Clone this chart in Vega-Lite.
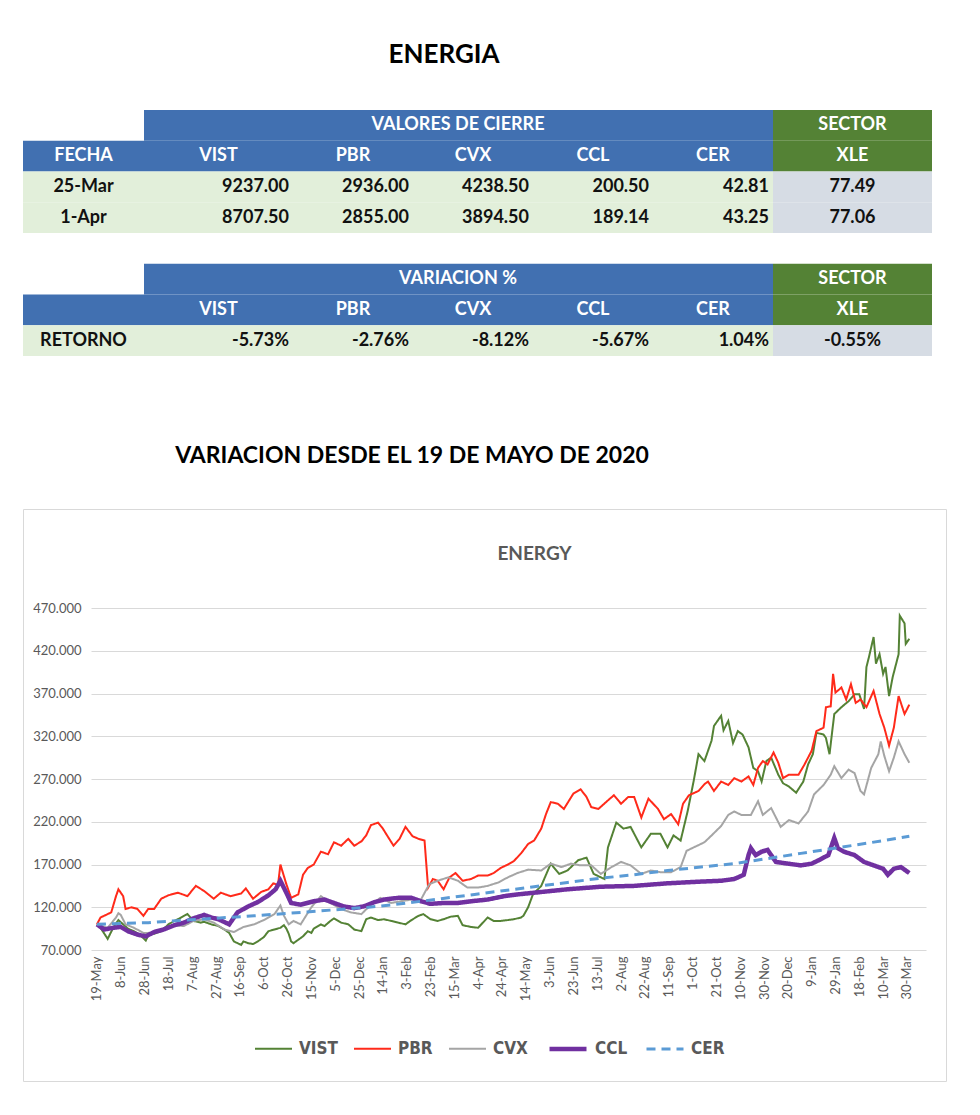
{
"$schema":"https://vega.github.io/schema/vega-lite/v6.json",
"padding":{"left":22,"top":0,"right":0,"bottom":0},
"background":"#ffffff",
"bounds":"full",
"spacing":0,
"resolve":{"scale":{"color":"independent","strokeWidth":"independent","strokeDash":"independent"},"legend":{"color":"independent","strokeWidth":"independent","strokeDash":"independent"}},
"config":{"view":{"stroke":null},"font":"Lato"},
"datasets":{
"cells":[
{"col":"FECHA","row":"h1","kind":"blank","txt":""},
{"col":"FECHA","row":"h2","kind":"hdr","txt":"FECHA"},
{"col":"FECHA","row":"r1","kind":"data","txt":"25-Mar"},
{"col":"FECHA","row":"r2","kind":"data","txt":"1-Apr"},
{"col":"FECHA","row":"gap","kind":"blank","txt":""},
{"col":"FECHA","row":"h3","kind":"blank","txt":""},
{"col":"FECHA","row":"h4","kind":"hdr","txt":""},
{"col":"FECHA","row":"r3","kind":"data","txt":"RETORNO"},
{"col":"VIST","row":"h1","kind":"hdr","txt":""},
{"col":"VIST","row":"h2","kind":"hdr","txt":"VIST"},
{"col":"VIST","row":"r1","kind":"data","txt":"9237.00"},
{"col":"VIST","row":"r2","kind":"data","txt":"8707.50"},
{"col":"VIST","row":"gap","kind":"blank","txt":""},
{"col":"VIST","row":"h3","kind":"hdr","txt":""},
{"col":"VIST","row":"h4","kind":"hdr","txt":"VIST"},
{"col":"VIST","row":"r3","kind":"data","txt":"-5.73%"},
{"col":"PBR","row":"h1","kind":"hdr","txt":""},
{"col":"PBR","row":"h2","kind":"hdr","txt":"PBR"},
{"col":"PBR","row":"r1","kind":"data","txt":"2936.00"},
{"col":"PBR","row":"r2","kind":"data","txt":"2855.00"},
{"col":"PBR","row":"gap","kind":"blank","txt":""},
{"col":"PBR","row":"h3","kind":"hdr","txt":""},
{"col":"PBR","row":"h4","kind":"hdr","txt":"PBR"},
{"col":"PBR","row":"r3","kind":"data","txt":"-2.76%"},
{"col":"CVX","row":"h1","kind":"hdr","txt":""},
{"col":"CVX","row":"h2","kind":"hdr","txt":"CVX"},
{"col":"CVX","row":"r1","kind":"data","txt":"4238.50"},
{"col":"CVX","row":"r2","kind":"data","txt":"3894.50"},
{"col":"CVX","row":"gap","kind":"blank","txt":""},
{"col":"CVX","row":"h3","kind":"hdr","txt":""},
{"col":"CVX","row":"h4","kind":"hdr","txt":"CVX"},
{"col":"CVX","row":"r3","kind":"data","txt":"-8.12%"},
{"col":"CCL","row":"h1","kind":"span","txt":"VALORES DE CIERRE"},
{"col":"CCL","row":"h2","kind":"hdr","txt":"CCL"},
{"col":"CCL","row":"r1","kind":"data","txt":"200.50"},
{"col":"CCL","row":"r2","kind":"data","txt":"189.14"},
{"col":"CCL","row":"gap","kind":"blank","txt":""},
{"col":"CCL","row":"h3","kind":"span","txt":"VARIACION %"},
{"col":"CCL","row":"h4","kind":"hdr","txt":"CCL"},
{"col":"CCL","row":"r3","kind":"data","txt":"-5.67%"},
{"col":"CER","row":"h1","kind":"hdr","txt":""},
{"col":"CER","row":"h2","kind":"hdr","txt":"CER"},
{"col":"CER","row":"r1","kind":"data","txt":"42.81"},
{"col":"CER","row":"r2","kind":"data","txt":"43.25"},
{"col":"CER","row":"gap","kind":"blank","txt":""},
{"col":"CER","row":"h3","kind":"hdr","txt":""},
{"col":"CER","row":"h4","kind":"hdr","txt":"CER"},
{"col":"CER","row":"r3","kind":"data","txt":"1.04%"},
{"col":"XLE","row":"h1","kind":"sec","txt":"SECTOR"},
{"col":"XLE","row":"h2","kind":"sec","txt":"XLE"},
{"col":"XLE","row":"r1","kind":"xle","txt":"77.49"},
{"col":"XLE","row":"r2","kind":"xle","txt":"77.06"},
{"col":"XLE","row":"gap","kind":"blank","txt":""},
{"col":"XLE","row":"h3","kind":"sec","txt":"SECTOR"},
{"col":"XLE","row":"h4","kind":"sec","txt":"XLE"},
{"col":"XLE","row":"r3","kind":"xle","txt":"-0.55%"}
],
"lines":[
{"s":"VIST","d":"2020-05-19","v":100},{"s":"VIST","d":"2020-05-22","v":96},{"s":"VIST","d":"2020-05-28","v":83},{"s":"VIST","d":"2020-06-02","v":97},{"s":"VIST","d":"2020-06-06","v":105},{"s":"VIST","d":"2020-06-10","v":100},{"s":"VIST","d":"2020-06-14","v":95},{"s":"VIST","d":"2020-06-19","v":92},{"s":"VIST","d":"2020-06-24","v":88},{"s":"VIST","d":"2020-06-29","v":81},{"s":"VIST","d":"2020-07-02","v":90},{"s":"VIST","d":"2020-07-06","v":89},{"s":"VIST","d":"2020-07-12","v":92},{"s":"VIST","d":"2020-07-18","v":100},{"s":"VIST","d":"2020-07-23","v":104},{"s":"VIST","d":"2020-07-26","v":106},{"s":"VIST","d":"2020-07-31","v":110},{"s":"VIST","d":"2020-08-03","v":112},{"s":"VIST","d":"2020-08-08","v":104},{"s":"VIST","d":"2020-08-14","v":102},{"s":"VIST","d":"2020-08-17","v":103},{"s":"VIST","d":"2020-08-23","v":100},{"s":"VIST","d":"2020-08-29","v":98},{"s":"VIST","d":"2020-09-03","v":94},{"s":"VIST","d":"2020-09-07","v":90},{"s":"VIST","d":"2020-09-11","v":80},{"s":"VIST","d":"2020-09-14","v":78},{"s":"VIST","d":"2020-09-17","v":76},{"s":"VIST","d":"2020-09-19","v":80},{"s":"VIST","d":"2020-09-23","v":78},{"s":"VIST","d":"2020-09-27","v":77},{"s":"VIST","d":"2020-10-01","v":80},{"s":"VIST","d":"2020-10-06","v":85},{"s":"VIST","d":"2020-10-10","v":92},{"s":"VIST","d":"2020-10-15","v":94},{"s":"VIST","d":"2020-10-20","v":96},{"s":"VIST","d":"2020-10-23","v":99},{"s":"VIST","d":"2020-10-25","v":95},{"s":"VIST","d":"2020-10-27","v":89},{"s":"VIST","d":"2020-10-29","v":80},{"s":"VIST","d":"2020-10-31","v":78},{"s":"VIST","d":"2020-11-04","v":82},{"s":"VIST","d":"2020-11-08","v":86},{"s":"VIST","d":"2020-11-12","v":92},{"s":"VIST","d":"2020-11-15","v":90},{"s":"VIST","d":"2020-11-17","v":95},{"s":"VIST","d":"2020-11-23","v":100},{"s":"VIST","d":"2020-11-26","v":98},{"s":"VIST","d":"2020-12-01","v":104},{"s":"VIST","d":"2020-12-04","v":107},{"s":"VIST","d":"2020-12-10","v":102},{"s":"VIST","d":"2020-12-16","v":100},{"s":"VIST","d":"2020-12-21","v":94},{"s":"VIST","d":"2020-12-27","v":92},{"s":"VIST","d":"2020-12-31","v":106},{"s":"VIST","d":"2021-01-04","v":108},{"s":"VIST","d":"2021-01-10","v":105},{"s":"VIST","d":"2021-01-15","v":106},{"s":"VIST","d":"2021-01-21","v":104},{"s":"VIST","d":"2021-01-27","v":102},{"s":"VIST","d":"2021-02-02","v":100},{"s":"VIST","d":"2021-02-07","v":105},{"s":"VIST","d":"2021-02-13","v":110},{"s":"VIST","d":"2021-02-17","v":112},{"s":"VIST","d":"2021-02-23","v":106},{"s":"VIST","d":"2021-03-01","v":104},{"s":"VIST","d":"2021-03-06","v":106},{"s":"VIST","d":"2021-03-12","v":109},{"s":"VIST","d":"2021-03-18","v":110},{"s":"VIST","d":"2021-03-22","v":99},{"s":"VIST","d":"2021-03-29","v":97},{"s":"VIST","d":"2021-04-04","v":96},{"s":"VIST","d":"2021-04-12","v":108},{"s":"VIST","d":"2021-04-17","v":104},{"s":"VIST","d":"2021-04-23","v":104},{"s":"VIST","d":"2021-04-29","v":105},{"s":"VIST","d":"2021-05-04","v":106},{"s":"VIST","d":"2021-05-10","v":108},{"s":"VIST","d":"2021-05-12","v":110},{"s":"VIST","d":"2021-05-16","v":120},{"s":"VIST","d":"2021-05-20","v":135},{"s":"VIST","d":"2021-05-27","v":145},{"s":"VIST","d":"2021-06-04","v":171},{"s":"VIST","d":"2021-06-11","v":159},{"s":"VIST","d":"2021-06-18","v":163},{"s":"VIST","d":"2021-06-27","v":175},{"s":"VIST","d":"2021-07-04","v":178},{"s":"VIST","d":"2021-07-10","v":159},{"s":"VIST","d":"2021-07-19","v":153},{"s":"VIST","d":"2021-07-22","v":190},{"s":"VIST","d":"2021-07-29","v":219},{"s":"VIST","d":"2021-08-04","v":212},{"s":"VIST","d":"2021-08-10","v":214},{"s":"VIST","d":"2021-08-19","v":190},{"s":"VIST","d":"2021-08-27","v":206},{"s":"VIST","d":"2021-09-04","v":206},{"s":"VIST","d":"2021-09-10","v":190},{"s":"VIST","d":"2021-09-15","v":204},{"s":"VIST","d":"2021-09-21","v":198},{"s":"VIST","d":"2021-09-27","v":233},{"s":"VIST","d":"2021-10-02","v":268},{"s":"VIST","d":"2021-10-06","v":299},{"s":"VIST","d":"2021-10-11","v":291},{"s":"VIST","d":"2021-10-17","v":315},{"s":"VIST","d":"2021-10-19","v":332},{"s":"VIST","d":"2021-10-25","v":344},{"s":"VIST","d":"2021-10-27","v":327},{"s":"VIST","d":"2021-10-31","v":338},{"s":"VIST","d":"2021-11-04","v":312},{"s":"VIST","d":"2021-11-08","v":326},{"s":"VIST","d":"2021-11-12","v":322},{"s":"VIST","d":"2021-11-17","v":307},{"s":"VIST","d":"2021-11-21","v":283},{"s":"VIST","d":"2021-11-25","v":279},{"s":"VIST","d":"2021-11-28","v":267},{"s":"VIST","d":"2021-12-02","v":291},{"s":"VIST","d":"2021-12-06","v":295},{"s":"VIST","d":"2021-12-12","v":275},{"s":"VIST","d":"2021-12-16","v":265},{"s":"VIST","d":"2021-12-21","v":261},{"s":"VIST","d":"2021-12-27","v":254},{"s":"VIST","d":"2022-01-02","v":267},{"s":"VIST","d":"2022-01-06","v":287},{"s":"VIST","d":"2022-01-10","v":299},{"s":"VIST","d":"2022-01-13","v":324},{"s":"VIST","d":"2022-01-19","v":322},{"s":"VIST","d":"2022-01-21","v":318},{"s":"VIST","d":"2022-01-24","v":299},{"s":"VIST","d":"2022-01-28","v":346},{"s":"VIST","d":"2022-02-03","v":354},{"s":"VIST","d":"2022-02-09","v":361},{"s":"VIST","d":"2022-02-14","v":369},{"s":"VIST","d":"2022-02-18","v":369},{"s":"VIST","d":"2022-02-22","v":352},{"s":"VIST","d":"2022-02-24","v":401},{"s":"VIST","d":"2022-02-26","v":412},{"s":"VIST","d":"2022-03-02","v":436},{"s":"VIST","d":"2022-03-04","v":405},{"s":"VIST","d":"2022-03-07","v":416},{"s":"VIST","d":"2022-03-10","v":393},{"s":"VIST","d":"2022-03-12","v":401},{"s":"VIST","d":"2022-03-15","v":367},{"s":"VIST","d":"2022-03-18","v":389},{"s":"VIST","d":"2022-03-23","v":416},{"s":"VIST","d":"2022-03-24","v":461},{"s":"VIST","d":"2022-03-28","v":452},{"s":"VIST","d":"2022-03-29","v":428},{"s":"VIST","d":"2022-04-01","v":434},
{"s":"PBR","d":"2020-05-19","v":100},{"s":"PBR","d":"2020-05-22","v":108},{"s":"PBR","d":"2020-05-31","v":114},{"s":"PBR","d":"2020-06-04","v":133},{"s":"PBR","d":"2020-06-06","v":141},{"s":"PBR","d":"2020-06-10","v":133},{"s":"PBR","d":"2020-06-12","v":118},{"s":"PBR","d":"2020-06-17","v":120},{"s":"PBR","d":"2020-06-22","v":118},{"s":"PBR","d":"2020-06-27","v":110},{"s":"PBR","d":"2020-07-01","v":118},{"s":"PBR","d":"2020-07-06","v":118},{"s":"PBR","d":"2020-07-12","v":130},{"s":"PBR","d":"2020-07-18","v":134},{"s":"PBR","d":"2020-07-26","v":137},{"s":"PBR","d":"2020-08-03","v":133},{"s":"PBR","d":"2020-08-10","v":145},{"s":"PBR","d":"2020-08-17","v":139},{"s":"PBR","d":"2020-08-25","v":130},{"s":"PBR","d":"2020-08-31","v":137},{"s":"PBR","d":"2020-09-08","v":133},{"s":"PBR","d":"2020-09-17","v":136},{"s":"PBR","d":"2020-09-21","v":142},{"s":"PBR","d":"2020-09-27","v":130},{"s":"PBR","d":"2020-10-04","v":138},{"s":"PBR","d":"2020-10-10","v":141},{"s":"PBR","d":"2020-10-14","v":148},{"s":"PBR","d":"2020-10-18","v":146},{"s":"PBR","d":"2020-10-20","v":170},{"s":"PBR","d":"2020-10-25","v":147},{"s":"PBR","d":"2020-10-29","v":131},{"s":"PBR","d":"2020-11-04","v":135},{"s":"PBR","d":"2020-11-08","v":158},{"s":"PBR","d":"2020-11-12","v":166},{"s":"PBR","d":"2020-11-17","v":170},{"s":"PBR","d":"2020-11-23","v":185},{"s":"PBR","d":"2020-11-29","v":182},{"s":"PBR","d":"2020-12-04","v":196},{"s":"PBR","d":"2020-12-10","v":192},{"s":"PBR","d":"2020-12-16","v":200},{"s":"PBR","d":"2020-12-21","v":192},{"s":"PBR","d":"2020-12-27","v":197},{"s":"PBR","d":"2020-12-31","v":204},{"s":"PBR","d":"2021-01-04","v":216},{"s":"PBR","d":"2021-01-10","v":219},{"s":"PBR","d":"2021-01-14","v":212},{"s":"PBR","d":"2021-01-18","v":203},{"s":"PBR","d":"2021-01-23","v":192},{"s":"PBR","d":"2021-01-28","v":200},{"s":"PBR","d":"2021-02-02","v":214},{"s":"PBR","d":"2021-02-08","v":203},{"s":"PBR","d":"2021-02-13","v":200},{"s":"PBR","d":"2021-02-18","v":198},{"s":"PBR","d":"2021-02-21","v":143},{"s":"PBR","d":"2021-02-25","v":153},{"s":"PBR","d":"2021-03-01","v":151},{"s":"PBR","d":"2021-03-06","v":141},{"s":"PBR","d":"2021-03-11","v":155},{"s":"PBR","d":"2021-03-16","v":160},{"s":"PBR","d":"2021-03-22","v":151},{"s":"PBR","d":"2021-03-29","v":153},{"s":"PBR","d":"2021-04-04","v":157},{"s":"PBR","d":"2021-04-12","v":157},{"s":"PBR","d":"2021-04-17","v":160},{"s":"PBR","d":"2021-04-23","v":166},{"s":"PBR","d":"2021-04-29","v":170},{"s":"PBR","d":"2021-05-04","v":174},{"s":"PBR","d":"2021-05-10","v":183},{"s":"PBR","d":"2021-05-16","v":194},{"s":"PBR","d":"2021-05-21","v":198},{"s":"PBR","d":"2021-05-27","v":212},{"s":"PBR","d":"2021-05-31","v":229},{"s":"PBR","d":"2021-06-04","v":243},{"s":"PBR","d":"2021-06-10","v":241},{"s":"PBR","d":"2021-06-15","v":235},{"s":"PBR","d":"2021-06-23","v":253},{"s":"PBR","d":"2021-06-29","v":258},{"s":"PBR","d":"2021-07-04","v":249},{"s":"PBR","d":"2021-07-08","v":237},{"s":"PBR","d":"2021-07-14","v":235},{"s":"PBR","d":"2021-07-22","v":245},{"s":"PBR","d":"2021-07-27","v":251},{"s":"PBR","d":"2021-08-02","v":241},{"s":"PBR","d":"2021-08-08","v":249},{"s":"PBR","d":"2021-08-13","v":249},{"s":"PBR","d":"2021-08-19","v":225},{"s":"PBR","d":"2021-08-25","v":247},{"s":"PBR","d":"2021-09-02","v":235},{"s":"PBR","d":"2021-09-07","v":223},{"s":"PBR","d":"2021-09-13","v":229},{"s":"PBR","d":"2021-09-19","v":217},{"s":"PBR","d":"2021-09-23","v":241},{"s":"PBR","d":"2021-09-28","v":251},{"s":"PBR","d":"2021-10-06","v":256},{"s":"PBR","d":"2021-10-11","v":264},{"s":"PBR","d":"2021-10-14","v":267},{"s":"PBR","d":"2021-10-19","v":256},{"s":"PBR","d":"2021-10-25","v":267},{"s":"PBR","d":"2021-10-31","v":263},{"s":"PBR","d":"2021-11-05","v":271},{"s":"PBR","d":"2021-11-11","v":267},{"s":"PBR","d":"2021-11-17","v":273},{"s":"PBR","d":"2021-11-21","v":263},{"s":"PBR","d":"2021-11-25","v":283},{"s":"PBR","d":"2021-11-29","v":291},{"s":"PBR","d":"2021-12-03","v":287},{"s":"PBR","d":"2021-12-08","v":301},{"s":"PBR","d":"2021-12-12","v":289},{"s":"PBR","d":"2021-12-16","v":271},{"s":"PBR","d":"2021-12-21","v":275},{"s":"PBR","d":"2021-12-29","v":275},{"s":"PBR","d":"2022-01-03","v":287},{"s":"PBR","d":"2022-01-09","v":303},{"s":"PBR","d":"2022-01-13","v":326},{"s":"PBR","d":"2022-01-19","v":330},{"s":"PBR","d":"2022-01-21","v":354},{"s":"PBR","d":"2022-01-25","v":355},{"s":"PBR","d":"2022-01-27","v":393},{"s":"PBR","d":"2022-01-29","v":371},{"s":"PBR","d":"2022-02-03","v":377},{"s":"PBR","d":"2022-02-07","v":363},{"s":"PBR","d":"2022-02-11","v":381},{"s":"PBR","d":"2022-02-15","v":359},{"s":"PBR","d":"2022-02-19","v":363},{"s":"PBR","d":"2022-02-24","v":354},{"s":"PBR","d":"2022-03-02","v":373},{"s":"PBR","d":"2022-03-07","v":346},{"s":"PBR","d":"2022-03-11","v":330},{"s":"PBR","d":"2022-03-15","v":309},{"s":"PBR","d":"2022-03-19","v":330},{"s":"PBR","d":"2022-03-23","v":367},{"s":"PBR","d":"2022-03-28","v":346},{"s":"PBR","d":"2022-04-01","v":357},
{"s":"CVX","d":"2020-05-19","v":100},{"s":"CVX","d":"2020-05-28","v":96},{"s":"CVX","d":"2020-06-04","v":108},{"s":"CVX","d":"2020-06-06","v":113},{"s":"CVX","d":"2020-06-08","v":111},{"s":"CVX","d":"2020-06-12","v":100},{"s":"CVX","d":"2020-06-19","v":96},{"s":"CVX","d":"2020-06-27","v":90},{"s":"CVX","d":"2020-07-06","v":90},{"s":"CVX","d":"2020-07-14","v":95},{"s":"CVX","d":"2020-07-23","v":99},{"s":"CVX","d":"2020-07-31","v":98},{"s":"CVX","d":"2020-08-08","v":104},{"s":"CVX","d":"2020-08-17","v":106},{"s":"CVX","d":"2020-08-25","v":102},{"s":"CVX","d":"2020-09-03","v":94},{"s":"CVX","d":"2020-09-11","v":91},{"s":"CVX","d":"2020-09-19","v":97},{"s":"CVX","d":"2020-09-28","v":100},{"s":"CVX","d":"2020-10-06","v":105},{"s":"CVX","d":"2020-10-15","v":112},{"s":"CVX","d":"2020-10-20","v":122},{"s":"CVX","d":"2020-10-23","v":110},{"s":"CVX","d":"2020-10-27","v":100},{"s":"CVX","d":"2020-10-31","v":104},{"s":"CVX","d":"2020-11-06","v":100},{"s":"CVX","d":"2020-11-15","v":120},{"s":"CVX","d":"2020-11-23","v":133},{"s":"CVX","d":"2020-12-01","v":125},{"s":"CVX","d":"2020-12-10","v":118},{"s":"CVX","d":"2020-12-18","v":114},{"s":"CVX","d":"2020-12-27","v":112},{"s":"CVX","d":"2021-01-04","v":123},{"s":"CVX","d":"2021-01-12","v":131},{"s":"CVX","d":"2021-01-21","v":125},{"s":"CVX","d":"2021-01-29","v":127},{"s":"CVX","d":"2021-02-07","v":129},{"s":"CVX","d":"2021-02-15","v":129},{"s":"CVX","d":"2021-02-22","v":147},{"s":"CVX","d":"2021-03-01","v":151},{"s":"CVX","d":"2021-03-10","v":155},{"s":"CVX","d":"2021-03-18","v":151},{"s":"CVX","d":"2021-03-26","v":143},{"s":"CVX","d":"2021-04-04","v":143},{"s":"CVX","d":"2021-04-12","v":145},{"s":"CVX","d":"2021-04-21","v":149},{"s":"CVX","d":"2021-04-29","v":155},{"s":"CVX","d":"2021-05-07","v":160},{"s":"CVX","d":"2021-05-16","v":164},{"s":"CVX","d":"2021-05-27","v":163},{"s":"CVX","d":"2021-06-04","v":171},{"s":"CVX","d":"2021-06-13","v":167},{"s":"CVX","d":"2021-06-21","v":171},{"s":"CVX","d":"2021-06-29","v":169},{"s":"CVX","d":"2021-07-08","v":169},{"s":"CVX","d":"2021-07-16","v":159},{"s":"CVX","d":"2021-07-25","v":167},{"s":"CVX","d":"2021-08-02","v":173},{"s":"CVX","d":"2021-08-10","v":169},{"s":"CVX","d":"2021-08-19","v":159},{"s":"CVX","d":"2021-08-27","v":163},{"s":"CVX","d":"2021-09-04","v":161},{"s":"CVX","d":"2021-09-13","v":161},{"s":"CVX","d":"2021-09-21","v":167},{"s":"CVX","d":"2021-09-26","v":186},{"s":"CVX","d":"2021-10-02","v":190},{"s":"CVX","d":"2021-10-11","v":196},{"s":"CVX","d":"2021-10-17","v":204},{"s":"CVX","d":"2021-10-25","v":215},{"s":"CVX","d":"2021-10-31","v":228},{"s":"CVX","d":"2021-11-05","v":232},{"s":"CVX","d":"2021-11-11","v":228},{"s":"CVX","d":"2021-11-19","v":228},{"s":"CVX","d":"2021-11-25","v":244},{"s":"CVX","d":"2021-11-29","v":228},{"s":"CVX","d":"2021-12-06","v":236},{"s":"CVX","d":"2021-12-14","v":214},{"s":"CVX","d":"2021-12-21","v":222},{"s":"CVX","d":"2021-12-29","v":218},{"s":"CVX","d":"2022-01-06","v":232},{"s":"CVX","d":"2022-01-11","v":252},{"s":"CVX","d":"2022-01-19","v":263},{"s":"CVX","d":"2022-01-25","v":275},{"s":"CVX","d":"2022-01-28","v":285},{"s":"CVX","d":"2022-02-03","v":271},{"s":"CVX","d":"2022-02-09","v":281},{"s":"CVX","d":"2022-02-14","v":277},{"s":"CVX","d":"2022-02-19","v":256},{"s":"CVX","d":"2022-02-22","v":252},{"s":"CVX","d":"2022-02-28","v":283},{"s":"CVX","d":"2022-03-06","v":299},{"s":"CVX","d":"2022-03-08","v":314},{"s":"CVX","d":"2022-03-11","v":297},{"s":"CVX","d":"2022-03-15","v":279},{"s":"CVX","d":"2022-03-19","v":295},{"s":"CVX","d":"2022-03-23","v":314},{"s":"CVX","d":"2022-03-28","v":299},{"s":"CVX","d":"2022-04-01","v":289},
{"s":"CCL","d":"2020-05-19","v":100},{"s":"CCL","d":"2020-05-25","v":94},{"s":"CCL","d":"2020-06-02","v":96},{"s":"CCL","d":"2020-06-08","v":97},{"s":"CCL","d":"2020-06-14","v":92},{"s":"CCL","d":"2020-06-22","v":88},{"s":"CCL","d":"2020-06-29","v":86},{"s":"CCL","d":"2020-07-06","v":91},{"s":"CCL","d":"2020-07-14","v":94},{"s":"CCL","d":"2020-07-23","v":99},{"s":"CCL","d":"2020-07-31","v":102},{"s":"CCL","d":"2020-08-08","v":107},{"s":"CCL","d":"2020-08-17","v":111},{"s":"CCL","d":"2020-08-23","v":108},{"s":"CCL","d":"2020-08-29","v":106},{"s":"CCL","d":"2020-09-07","v":100},{"s":"CCL","d":"2020-09-14","v":114},{"s":"CCL","d":"2020-09-23","v":121},{"s":"CCL","d":"2020-10-01","v":126},{"s":"CCL","d":"2020-10-10","v":134},{"s":"CCL","d":"2020-10-16","v":141},{"s":"CCL","d":"2020-10-20","v":151},{"s":"CCL","d":"2020-10-25","v":137},{"s":"CCL","d":"2020-10-29","v":125},{"s":"CCL","d":"2020-11-06","v":123},{"s":"CCL","d":"2020-11-17","v":127},{"s":"CCL","d":"2020-11-26","v":129},{"s":"CCL","d":"2020-12-04","v":125},{"s":"CCL","d":"2020-12-12","v":121},{"s":"CCL","d":"2020-12-21","v":119},{"s":"CCL","d":"2020-12-29","v":121},{"s":"CCL","d":"2021-01-07","v":126},{"s":"CCL","d":"2021-01-15","v":129},{"s":"CCL","d":"2021-01-27","v":131},{"s":"CCL","d":"2021-02-07","v":131},{"s":"CCL","d":"2021-02-15","v":127},{"s":"CCL","d":"2021-02-23","v":124},{"s":"CCL","d":"2021-03-06","v":125},{"s":"CCL","d":"2021-03-18","v":125},{"s":"CCL","d":"2021-03-29","v":127},{"s":"CCL","d":"2021-04-12","v":129},{"s":"CCL","d":"2021-04-26","v":133},{"s":"CCL","d":"2021-05-07","v":135},{"s":"CCL","d":"2021-05-21","v":137},{"s":"CCL","d":"2021-06-18","v":141},{"s":"CCL","d":"2021-07-16","v":144},{"s":"CCL","d":"2021-08-13","v":145},{"s":"CCL","d":"2021-09-10","v":148},{"s":"CCL","d":"2021-10-08","v":150},{"s":"CCL","d":"2021-10-25","v":151},{"s":"CCL","d":"2021-11-05","v":153},{"s":"CCL","d":"2021-11-13","v":158},{"s":"CCL","d":"2021-11-17","v":181},{"s":"CCL","d":"2021-11-19","v":189},{"s":"CCL","d":"2021-11-23","v":181},{"s":"CCL","d":"2021-11-28","v":185},{"s":"CCL","d":"2021-12-03","v":187},{"s":"CCL","d":"2021-12-06","v":181},{"s":"CCL","d":"2021-12-10","v":173},{"s":"CCL","d":"2021-12-20","v":171},{"s":"CCL","d":"2021-12-31","v":169},{"s":"CCL","d":"2022-01-09","v":171},{"s":"CCL","d":"2022-01-15","v":175},{"s":"CCL","d":"2022-01-23","v":181},{"s":"CCL","d":"2022-01-28","v":201},{"s":"CCL","d":"2022-01-31","v":189},{"s":"CCL","d":"2022-02-05","v":185},{"s":"CCL","d":"2022-02-14","v":181},{"s":"CCL","d":"2022-02-22","v":173},{"s":"CCL","d":"2022-03-02","v":169},{"s":"CCL","d":"2022-03-10","v":165},{"s":"CCL","d":"2022-03-14","v":158},{"s":"CCL","d":"2022-03-19","v":165},{"s":"CCL","d":"2022-03-25","v":167},{"s":"CCL","d":"2022-04-01","v":160},
{"s":"CER","d":"2020-05-19","v":100},{"s":"CER","d":"2020-07-01","v":102},{"s":"CER","d":"2020-08-14","v":106},{"s":"CER","d":"2020-09-28","v":110},{"s":"CER","d":"2020-11-06","v":114},{"s":"CER","d":"2021-01-02","v":120},{"s":"CER","d":"2021-01-29","v":124},{"s":"CER","d":"2021-03-04","v":130},{"s":"CER","d":"2021-04-01","v":135},{"s":"CER","d":"2021-04-23","v":139},{"s":"CER","d":"2021-05-21","v":144},{"s":"CER","d":"2021-06-18","v":149},{"s":"CER","d":"2021-07-16","v":154},{"s":"CER","d":"2021-08-13","v":158},{"s":"CER","d":"2021-09-10","v":163},{"s":"CER","d":"2021-10-08","v":167},{"s":"CER","d":"2021-11-05","v":171},{"s":"CER","d":"2021-12-03","v":177},{"s":"CER","d":"2021-12-31","v":183},{"s":"CER","d":"2022-01-28","v":189},{"s":"CER","d":"2022-02-25","v":195},{"s":"CER","d":"2022-04-01","v":203}
]
},
"vconcat":[
{"width":842,"height":110,"data":{"values":[{"t":"ENERGIA"}]},"mark":{"type":"text","font":"Lato","fontSize":26,"fontWeight":"bold","color":"#000000"},"encoding":{"text":{"field":"t"}}},
{"hconcat":[
{"width":121,"height":246,"data":{"name":"cells"},"transform":[{"filter":"datum.col == 'FECHA'"}],
 "encoding":{"x":{"field":"col","type":"nominal","scale":{"paddingInner":0,"paddingOuter":0},"axis":null},"y":{"field":"row","type":"nominal","scale":{"domain":["h1","h2","r1","r2","gap","h3","h4","r3"],"paddingInner":0,"paddingOuter":0},"axis":null}},
 "layer":[
  {"mark":{"type":"rect"},"encoding":{"fill":{"field":"kind","type":"nominal","scale":{"domain":["blank","hdr","span","sec","data","xle"],"range":["#ffffff","#4170b1","#4170b1","#548235","#e2efda","#d6dce4"]},"legend":null}}},
  {"transform":[{"filter":"datum.kind == 'hdr'"}],"mark":{"type":"text","font":"Lato","fontSize":18,"fontWeight":"bold","color":"#ffffff"},"encoding":{"text":{"field":"txt"}}},
  {"transform":[{"filter":"datum.kind == 'data'"}],"mark":{"type":"text","font":"Lato","fontSize":18,"fontWeight":"bold","color":"#111111"},"encoding":{"text":{"field":"txt"}}}
 ]},
{"width":149,"height":246,"data":{"name":"cells"},"transform":[{"filter":"datum.col == 'VIST'"}],
 "encoding":{"x":{"field":"col","type":"nominal","scale":{"paddingInner":0,"paddingOuter":0},"axis":null},"y":{"field":"row","type":"nominal","scale":{"domain":["h1","h2","r1","r2","gap","h3","h4","r3"],"paddingInner":0,"paddingOuter":0},"axis":null}},
 "layer":[
  {"mark":{"type":"rect"},"encoding":{"fill":{"field":"kind","type":"nominal","scale":{"domain":["blank","hdr","span","sec","data","xle"],"range":["#ffffff","#4170b1","#4170b1","#548235","#e2efda","#d6dce4"]},"legend":null}}},
  {"transform":[{"filter":"datum.kind == 'hdr'"}],"mark":{"type":"text","font":"Lato","fontSize":18,"fontWeight":"bold","color":"#ffffff"},"encoding":{"text":{"field":"txt"}}},
  {"transform":[{"filter":"datum.kind == 'data'"}],"mark":{"type":"text","font":"Lato","fontSize":18,"fontWeight":"bold","color":"#111111","align":"right","dx":-4},"encoding":{"x":{"field":"col","type":"nominal","bandPosition":1},"text":{"field":"txt"}}}
 ]},
{"width":120,"height":246,"data":{"name":"cells"},"transform":[{"filter":"datum.col == 'PBR'"}],
 "encoding":{"x":{"field":"col","type":"nominal","scale":{"paddingInner":0,"paddingOuter":0},"axis":null},"y":{"field":"row","type":"nominal","scale":{"domain":["h1","h2","r1","r2","gap","h3","h4","r3"],"paddingInner":0,"paddingOuter":0},"axis":null}},
 "layer":[
  {"mark":{"type":"rect"},"encoding":{"fill":{"field":"kind","type":"nominal","scale":{"domain":["blank","hdr","span","sec","data","xle"],"range":["#ffffff","#4170b1","#4170b1","#548235","#e2efda","#d6dce4"]},"legend":null}}},
  {"transform":[{"filter":"datum.kind == 'hdr'"}],"mark":{"type":"text","font":"Lato","fontSize":18,"fontWeight":"bold","color":"#ffffff"},"encoding":{"text":{"field":"txt"}}},
  {"transform":[{"filter":"datum.kind == 'data'"}],"mark":{"type":"text","font":"Lato","fontSize":18,"fontWeight":"bold","color":"#111111","align":"right","dx":-4},"encoding":{"x":{"field":"col","type":"nominal","bandPosition":1},"text":{"field":"txt"}}}
 ]},
{"width":120,"height":246,"data":{"name":"cells"},"transform":[{"filter":"datum.col == 'CVX'"}],
 "encoding":{"x":{"field":"col","type":"nominal","scale":{"paddingInner":0,"paddingOuter":0},"axis":null},"y":{"field":"row","type":"nominal","scale":{"domain":["h1","h2","r1","r2","gap","h3","h4","r3"],"paddingInner":0,"paddingOuter":0},"axis":null}},
 "layer":[
  {"mark":{"type":"rect"},"encoding":{"fill":{"field":"kind","type":"nominal","scale":{"domain":["blank","hdr","span","sec","data","xle"],"range":["#ffffff","#4170b1","#4170b1","#548235","#e2efda","#d6dce4"]},"legend":null}}},
  {"transform":[{"filter":"datum.kind == 'hdr'"}],"mark":{"type":"text","font":"Lato","fontSize":18,"fontWeight":"bold","color":"#ffffff"},"encoding":{"text":{"field":"txt"}}},
  {"transform":[{"filter":"datum.kind == 'data'"}],"mark":{"type":"text","font":"Lato","fontSize":18,"fontWeight":"bold","color":"#111111","align":"right","dx":-4},"encoding":{"x":{"field":"col","type":"nominal","bandPosition":1},"text":{"field":"txt"}}}
 ]},
{"width":120,"height":246,"data":{"name":"cells"},"transform":[{"filter":"datum.col == 'CCL'"}],
 "encoding":{"x":{"field":"col","type":"nominal","scale":{"paddingInner":0,"paddingOuter":0},"axis":null},"y":{"field":"row","type":"nominal","scale":{"domain":["h1","h2","r1","r2","gap","h3","h4","r3"],"paddingInner":0,"paddingOuter":0},"axis":null}},
 "layer":[
  {"mark":{"type":"rect"},"encoding":{"fill":{"field":"kind","type":"nominal","scale":{"domain":["blank","hdr","span","sec","data","xle"],"range":["#ffffff","#4170b1","#4170b1","#548235","#e2efda","#d6dce4"]},"legend":null}}},
  {"transform":[{"filter":"datum.kind == 'hdr'"}],"mark":{"type":"text","font":"Lato","fontSize":18,"fontWeight":"bold","color":"#ffffff"},"encoding":{"text":{"field":"txt"}}},
  {"transform":[{"filter":"datum.kind == 'span'"}],"mark":{"type":"text","font":"Lato","fontSize":18,"fontWeight":"bold","color":"#ffffff","dx":-135},"encoding":{"text":{"field":"txt"}}},
  {"transform":[{"filter":"datum.kind == 'data'"}],"mark":{"type":"text","font":"Lato","fontSize":18,"fontWeight":"bold","color":"#111111","align":"right","dx":-4},"encoding":{"x":{"field":"col","type":"nominal","bandPosition":1},"text":{"field":"txt"}}}
 ]},
{"width":120,"height":246,"data":{"name":"cells"},"transform":[{"filter":"datum.col == 'CER'"}],
 "encoding":{"x":{"field":"col","type":"nominal","scale":{"paddingInner":0,"paddingOuter":0},"axis":null},"y":{"field":"row","type":"nominal","scale":{"domain":["h1","h2","r1","r2","gap","h3","h4","r3"],"paddingInner":0,"paddingOuter":0},"axis":null}},
 "layer":[
  {"mark":{"type":"rect"},"encoding":{"fill":{"field":"kind","type":"nominal","scale":{"domain":["blank","hdr","span","sec","data","xle"],"range":["#ffffff","#4170b1","#4170b1","#548235","#e2efda","#d6dce4"]},"legend":null}}},
  {"transform":[{"filter":"datum.kind == 'hdr'"}],"mark":{"type":"text","font":"Lato","fontSize":18,"fontWeight":"bold","color":"#ffffff"},"encoding":{"text":{"field":"txt"}}},
  {"transform":[{"filter":"datum.kind == 'data'"}],"mark":{"type":"text","font":"Lato","fontSize":18,"fontWeight":"bold","color":"#111111","align":"right","dx":-4},"encoding":{"x":{"field":"col","type":"nominal","bandPosition":1},"text":{"field":"txt"}}}
 ]},
{"width":159,"height":246,"data":{"name":"cells"},"transform":[{"filter":"datum.col == 'XLE'"}],
 "encoding":{"x":{"field":"col","type":"nominal","scale":{"paddingInner":0,"paddingOuter":0},"axis":null},"y":{"field":"row","type":"nominal","scale":{"domain":["h1","h2","r1","r2","gap","h3","h4","r3"],"paddingInner":0,"paddingOuter":0},"axis":null}},
 "layer":[
  {"mark":{"type":"rect"},"encoding":{"fill":{"field":"kind","type":"nominal","scale":{"domain":["blank","hdr","span","sec","data","xle"],"range":["#ffffff","#4170b1","#4170b1","#548235","#e2efda","#d6dce4"]},"legend":null}}},
  {"transform":[{"filter":"datum.kind == 'sec'"}],"mark":{"type":"text","font":"Lato","fontSize":18,"fontWeight":"bold","color":"#ffffff"},"encoding":{"text":{"field":"txt"}}},
  {"transform":[{"filter":"datum.kind == 'xle'"}],"mark":{"type":"text","font":"Lato","fontSize":18,"fontWeight":"bold","color":"#111111"},"encoding":{"text":{"field":"txt"}}}
 ]}
],"spacing":0,"bounds":"flush"},
{"width":778,"height":152,"data":{"values":[{"t":"VARIACION DESDE EL 19 DE MAYO DE 2020"}]},"mark":{"type":"text","font":"Lato","fontSize":23,"fontWeight":"bold","color":"#000000","dy":24},"encoding":{"text":{"field":"t"}}},
{"width":923,"height":572,
 "view":{"stroke":"#d9d9d9","strokeWidth":1},
 "title":{"text":"ENERGY","font":"Lato","fontSize":19,"fontWeight":"bold","color":"#595959","anchor":"middle","dx":50,"offset":-55},
 "data":{"name":"lines"},
 "mark":{"type":"line","interpolate":"linear"},
 "encoding":{
  "x":{"field":"d","type":"temporal","scale":{"type":"utc","domain":[{"year":2020,"month":5,"date":14,"utc":true},{"year":2022,"month":4,"date":15,"utc":true}],"range":[68,903]},
   "axis":{"values":[{"year":2020,"month":5,"date":19,"utc":true},{"year":2020,"month":6,"date":8,"utc":true},{"year":2020,"month":6,"date":28,"utc":true},{"year":2020,"month":7,"date":18,"utc":true},{"year":2020,"month":8,"date":7,"utc":true},{"year":2020,"month":8,"date":27,"utc":true},{"year":2020,"month":9,"date":16,"utc":true},{"year":2020,"month":10,"date":6,"utc":true},{"year":2020,"month":10,"date":26,"utc":true},{"year":2020,"month":11,"date":15,"utc":true},{"year":2020,"month":12,"date":5,"utc":true},{"year":2020,"month":12,"date":25,"utc":true},{"year":2021,"month":1,"date":14,"utc":true},{"year":2021,"month":2,"date":3,"utc":true},{"year":2021,"month":2,"date":23,"utc":true},{"year":2021,"month":3,"date":15,"utc":true},{"year":2021,"month":4,"date":4,"utc":true},{"year":2021,"month":4,"date":24,"utc":true},{"year":2021,"month":5,"date":14,"utc":true},{"year":2021,"month":6,"date":3,"utc":true},{"year":2021,"month":6,"date":23,"utc":true},{"year":2021,"month":7,"date":13,"utc":true},{"year":2021,"month":8,"date":2,"utc":true},{"year":2021,"month":8,"date":22,"utc":true},{"year":2021,"month":9,"date":11,"utc":true},{"year":2021,"month":10,"date":1,"utc":true},{"year":2021,"month":10,"date":21,"utc":true},{"year":2021,"month":11,"date":10,"utc":true},{"year":2021,"month":11,"date":30,"utc":true},{"year":2021,"month":12,"date":20,"utc":true},{"year":2022,"month":1,"date":9,"utc":true},{"year":2022,"month":1,"date":29,"utc":true},{"year":2022,"month":2,"date":18,"utc":true},{"year":2022,"month":3,"date":10,"utc":true},{"year":2022,"month":3,"date":30,"utc":true}],
    "format":"%-d-%b","labelAngle":-90,"labelFont":"Lato","labelFontSize":13,"labelColor":"#595959","labelPadding":6,"ticks":false,"domain":false,"grid":false,"title":null,"offset":-131,"labelOverlap":false,"labelFlush":false,"labelBound":false}},
  "y":{"field":"v","type":"quantitative","scale":{"domain":[70,470],"range":[441,99],"nice":false,"zero":false},
   "axis":{"values":[70,120,170,220,270,320,370,420,470],"format":".3f","labelFont":"Lato","labelFontSize":13,"labelColor":"#595959","ticks":false,"domain":false,"grid":true,"gridColor":"#d9d9d9","gridWidth":1,"title":null,"offset":-62,"labelPadding":4}},
  "color":{"field":"s","type":"ordinal","scale":{"domain":["VIST","PBR","CVX","CCL","CER"],"range":["#548235","#ff2a1a","#a5a5a5","#7030a0","#5b9bd5"]},
   "legend":{"orient":"none","legendX":231,"legendY":519,"direction":"horizontal","title":null,"symbolType":"stroke","symbolSize":1369,"labelFont":"DejaVu Sans Condensed","labelFontWeight":"bold","labelFontSize":17,"labelColor":"#595959","columnPadding":12,"labelOffset":6}},
  "strokeWidth":{"field":"s","type":"ordinal","scale":{"type":"ordinal","domain":["VIST","PBR","CVX","CCL","CER"],"range":[2,2,2,4.5,3]},
   "legend":{"orient":"none","legendX":231,"legendY":519,"direction":"horizontal","title":null,"symbolType":"stroke","symbolSize":1369,"labelFont":"DejaVu Sans Condensed","labelFontWeight":"bold","labelFontSize":17,"labelColor":"#595959","columnPadding":12,"labelOffset":6}},
  "strokeDash":{"field":"s","type":"ordinal","scale":{"domain":["VIST","PBR","CVX","CCL","CER"],"range":[[1,0],[1,0],[1,0],[1,0],[9,6]]},
   "legend":{"orient":"none","legendX":231,"legendY":519,"direction":"horizontal","title":null,"symbolType":"stroke","symbolSize":1369,"labelFont":"DejaVu Sans Condensed","labelFontWeight":"bold","labelFontSize":17,"labelColor":"#595959","columnPadding":12,"labelOffset":6}}
 }
}
]
}
